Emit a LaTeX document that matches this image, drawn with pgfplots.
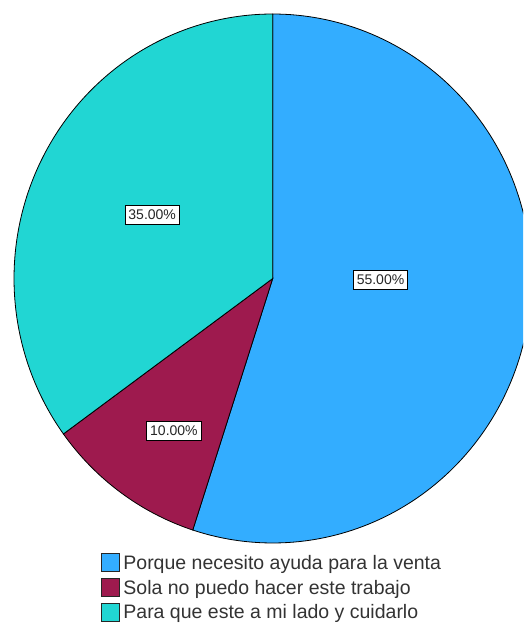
\documentclass[border=0pt]{standalone}
\usepackage{pgfplots}
\pgfplotsset{compat=1.18}
\usepackage{pgfplotstable}
\usepackage{fontspec}
\setmainfont{Liberation Sans}
\definecolor{cA}{HTML}{33ADFF}
\definecolor{cB}{HTML}{9E1A4E}
\definecolor{cC}{HTML}{21D6D3}
\pgfplotstableread{
pct
55
10
35
}\piedata
\pgfplotstablegetelem{0}{pct}\of\piedata \let\pA\pgfplotsretval
\pgfplotstablegetelem{1}{pct}\of\piedata \let\pB\pgfplotsretval
\pgfplotstablegetelem{2}{pct}\of\piedata \let\pC\pgfplotsretval
\pgfmathsetmacro\aZero{90}
\pgfmathsetmacro\aOne{90-3.6*\pA}
\pgfmathsetmacro\aTwo{\aOne-3.6*\pB}
\pgfmathsetmacro\aThree{\aTwo-3.6*\pC}
\begin{document}
\begin{tikzpicture}
\useasboundingbox (0pt,0pt) rectangle (523pt,626pt);
\begin{scope}
\clip (0pt,0pt) rectangle (523pt,626pt);
\begin{axis}[
  at={(272.7pt,347.5pt)}, anchor=center,
  scale only axis, width=517.4pt, height=529pt,
  xmin=-1, xmax=1, ymin=-1, ymax=1,
  hide axis, clip=false,
  area legend,
  legend image code/.code={\draw[#1,draw=black!85,line width=0.8pt] (0pt,-8.5pt) rectangle (18pt,9.5pt);},
  legend style={at={(axis cs:-0.666,-1.038)}, anchor=north west, draw=none, fill=none,
    font=\fontsize{19.5}{21}\selectfont, text=black!80, cells={anchor=west},
    row sep=5pt, inner sep=0pt,
    /tikz/every odd column/.style={column sep=2pt}},
]
\addplot[fill=cA, draw=black, line width=0.8pt, domain=\aOne:\aZero, samples=150, variable=\t]
  ({cos(t)},{sin(t)}) -- (axis cs:0,0) -- cycle;
\addlegendentry{Porque necesito ayuda para la venta}
\addplot[fill=cB, draw=black, line width=0.8pt, domain=\aTwo:\aOne, samples=40, variable=\t]
  ({cos(t)},{sin(t)}) -- (axis cs:0,0) -- cycle;
\addlegendentry{Sola no puedo hacer este trabajo}
\addplot[fill=cC, draw=black, line width=0.8pt, domain=\aThree:\aTwo, samples=120, variable=\t]
  ({cos(t)},{sin(t)}) -- (axis cs:0,0) -- cycle;
\addlegendentry{Para que este a mi lado y cuidarlo}
\tikzset{lbl/.style={draw=black, line width=0.8pt, fill=white, text=black!85,
  font=\fontsize{14}{16}\selectfont, inner xsep=3.5pt, inner ysep=4.5pt}}
\node[lbl] at (axis cs:0.4167,-0.0057) {55.00\%};
\node[lbl] at (axis cs:-0.4658,0.2401) {35.00\%};
\node[lbl] at (axis cs:-0.3818,-0.5747) {10.00\%};
\end{axis}
\end{scope}
\end{tikzpicture}
\end{document}
